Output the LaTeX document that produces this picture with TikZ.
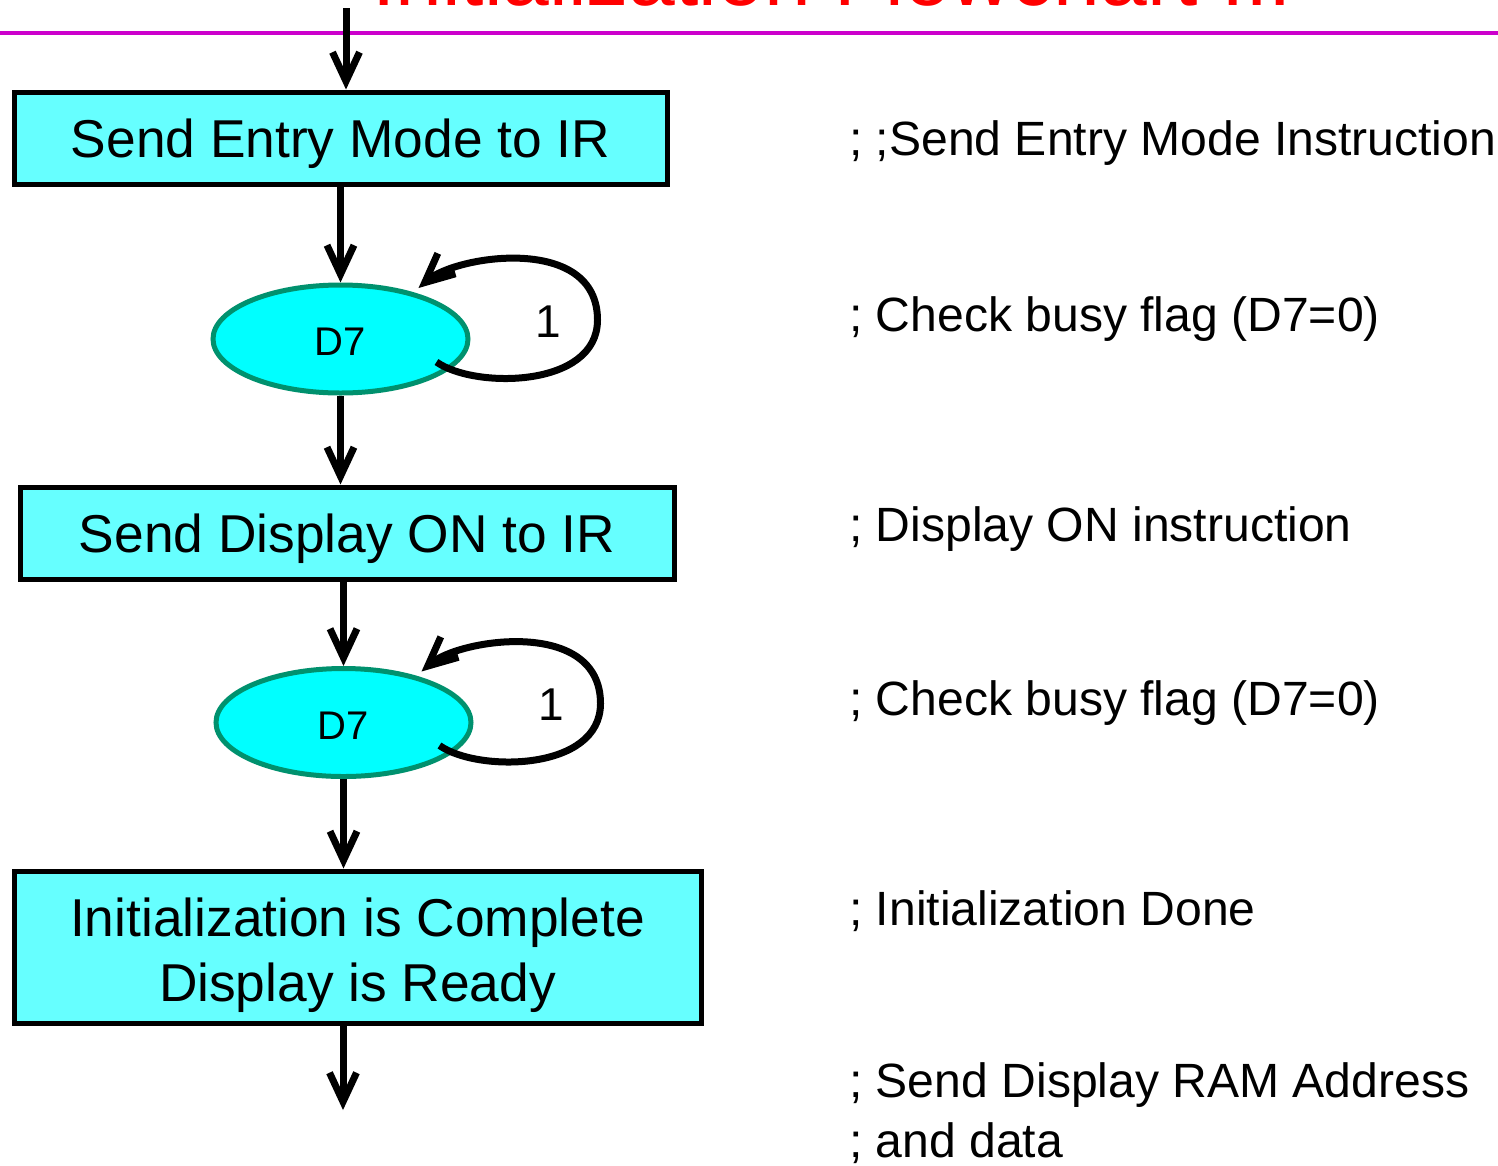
\documentclass[tikz,border=0pt]{standalone}
\usepackage{fontspec}
\setmainfont{Liberation Sans}
\usetikzlibrary{arrows.meta,shapes.geometric}

\definecolor{boxfill}{HTML}{66FFFF}
\definecolor{ovalfill}{HTML}{00FFFF}
\definecolor{ovaledge}{RGB}{0,145,110}
\definecolor{rulecol}{HTML}{CC00CC}
\definecolor{titlered}{HTML}{FF0000}

\begin{document}
\begin{tikzpicture}[x=1pt,y=-1pt,
  stepbox/.style={draw=black,line width=5pt,fill=boxfill,inner sep=0pt,
    font=\fontsize{53.3}{65}\selectfont},
  onebox/.style={stepbox,text height=38pt,text depth=0pt},
  test/.style={ellipse,draw=ovaledge,line width=5pt,fill=ovalfill,
    minimum width=255pt,minimum height=108pt,inner sep=0pt,
    font=\fontsize{40}{48}\selectfont,text height=33pt,text depth=0pt},
  flow/.style={line width=7pt,-{Straight Barb[length=29pt,width=27pt]}},
  note/.style={anchor=base west,inner sep=0pt,font=\fontsize{48.1}{58}\selectfont},
  loopnum/.style={inner sep=0pt,font=\fontsize{46}{54}\selectfont,
    text height=33pt,text depth=0pt}]

\useasboundingbox (0,0) rectangle (1498,1165);
\clip (0,0) rectangle (1498,1165);

% heading (runs off the top edge) and rule
\node[anchor=base west,inner sep=0pt,text=titlered,
  font=\fontsize{84}{100}\selectfont] (title) at (372,5) {Initialization Flowchart III};
\draw[rulecol,line width=4pt] (0,33) -- (1498,33);

% flowchart steps
\node[onebox,minimum width=653pt,minimum height=92pt] (b1) at (340.5,138) {Send Entry Mode to IR};
\node[test] (e1) at (340.5,339) {D7};
\node[onebox,minimum width=654pt,minimum height=92pt] (b2) at (347,533) {Send Display ON to IR};
\node[test] (e2) at (343.5,722.5) {D7};
\node[stepbox,minimum width=687pt,minimum height=152pt,text height=109pt,text depth=0pt]
  (b3) at (357.5,947)
  {\vbox{\halign{\hfil#\hfil\cr Initialization is Complete\cr Display is Ready\cr}}};

\coordinate (in) at (346,8);
\coordinate (out) at (343,1110);

% connectors
\draw[flow] (in) -- (in |- b1.north);
\draw[flow] (b1.south) -- (e1.north);
\draw[flow] (e1.south) -- (e1.south |- b2.north);
\draw[flow] (e2.north |- b2.south) -- (e2.north);
\draw[flow] (e2.south) -- (e2.south |- b3.north);
\draw[flow] (b3.south -| out) -- (out);

% busy-flag loops
\draw[flow] ([shift={(96,23)}]e1.center) .. controls +(38,27) and +(0,68) ..
  ([shift={(257,-19)}]e1.center) .. controls +(0,-86) and +(38,-33) ..
  ([shift={(78,-51)}]e1.center);
\node[loopnum] (n1) at ([shift={(208,-18)}]e1.center) {1};
\draw[flow] ([shift={(96,23)}]e2.center) .. controls +(38,27) and +(0,68) ..
  ([shift={(257,-19)}]e2.center) .. controls +(0,-86) and +(38,-33) ..
  ([shift={(78,-51)}]e2.center);
\node[loopnum] (n2) at ([shift={(208,-19)}]e2.center) {1};

% comments
\node[note] (c1) at (849,155) {; ;Send Entry Mode Instruction};
\node[note] (c2) at (849,331) {; Check busy flag (D7=0)};
\node[note] (c3) at (849,541) {; Display ON instruction};
\node[note] (c4) at (849,715) {; Check busy flag (D7=0)};
\node[note] (c5) at (849,925) {; Initialization Done};
\node[note] (c6) at (849,1097) {; Send Display RAM Address};
\node[note] (c7) at (849,1157) {; and data};
\end{tikzpicture}
\end{document}
